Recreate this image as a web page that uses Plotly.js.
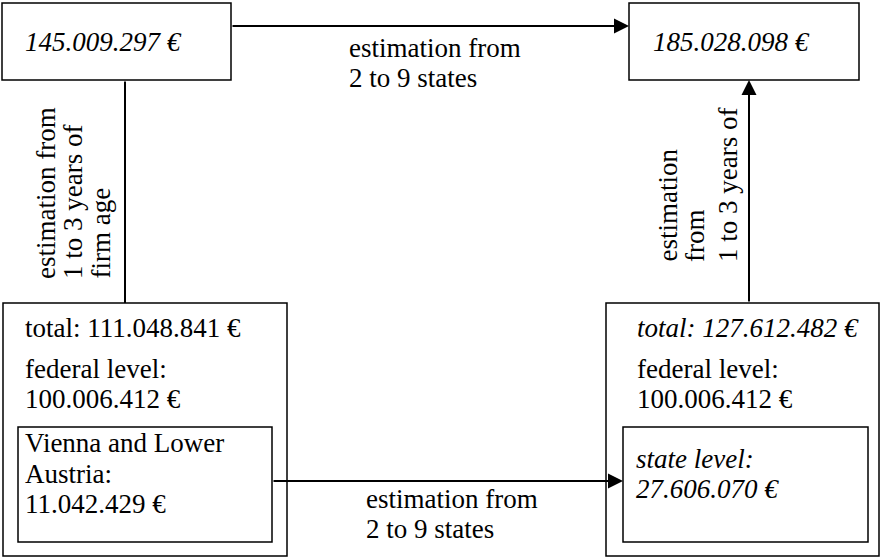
<!DOCTYPE html>
<html>
<head>
<meta charset="utf-8">
<script src="https://cdn.plot.ly/plotly-3.0.1.min.js"></script>
</head>
<body style="margin:0;padding:0;background:#fff;">
<div id="chart"></div>
<script>
// ---- Data (texts of the diagram) ----
const topLeftAmount = "145.009.297 €";
const topRightAmount = "185.028.098 €";
const leftTotal = "total: 111.048.841 €";
const rightTotal = "total: 127.612.482 €";
const federalLines = ["federal level:", "100.006.412 €"];
const leftStateLines = ["Vienna and Lower", "Austria:", "11.042.429 €"];
const rightStateLines = ["state level:", "27.606.070 €"];
const stateEstimationLines = ["estimation from", "2 to 9 states"];
const leftAgeLines = ["estimation from", "1 to 3 years of", "firm age"];
const rightAgeLines = ["estimation", "from", "1 to 3 years of"];

// ---- Layout helpers ----
const FAM = "Liberation Serif";
const FS = 27;
const boxLine = {color: "#000", width: 1.5};

function rect(x0, y0, x1, y1) {
  return {type: "rect", xref: "x", yref: "y", x0, y0, x1, y1, line: boxLine, fillcolor: "rgba(0,0,0,0)"};
}
function txt(t, x, y, italic, opts) {
  return Object.assign({
    text: italic ? "<i>" + t + "</i>" : t,
    x, y, xref: "x", yref: "y", showarrow: false,
    xanchor: "left", yanchor: "middle",
    font: {family: FAM, size: FS, color: "#000"}
  }, opts || {});
}
function vtxt(t, x, yBottom) {
  return txt(t, x, yBottom, false, {textangle: -90, xanchor: "center", yanchor: "bottom"});
}
function arrow(x0, y0, x1, y1, head) {
  return {
    text: "", x: x1, y: y1, ax: x0, ay: y0, xref: "x", yref: "y", axref: "x", ayref: "y",
    showarrow: true, arrowhead: head ? 2 : 0, arrowsize: 1.5, arrowwidth: 2,
    arrowcolor: "#000", standoff: 0, startstandoff: 0
  };
}

const shapes = [
  rect(2, 3, 231, 80),
  rect(629, 3, 859, 80),
  rect(3, 303, 287, 556),
  rect(18, 427, 272, 542),
  rect(606, 303, 879, 556),
  rect(623, 427, 868, 542)
];

const annotations = [
  txt(topLeftAmount, 23, 42, true),
  txt(topRightAmount, 651, 42, true),
  txt(stateEstimationLines[0], 347, 48, false),
  txt(stateEstimationLines[1], 347, 78, false),

  txt(leftTotal, 23, 328, false),
  txt(federalLines[0], 23, 369, false),
  txt(federalLines[1], 23, 399, false),
  txt(leftStateLines[0], 23, 443, false),
  txt(leftStateLines[1], 23, 474, false),
  txt(leftStateLines[2], 23, 504, false),

  txt(rightTotal, 635, 328, true),
  txt(federalLines[0], 635, 369, false),
  txt(federalLines[1], 635, 399, false),
  txt(rightStateLines[0], 634, 459, true),
  txt(rightStateLines[1], 634, 489, true),

  txt(stateEstimationLines[0], 364, 499, false),
  txt(stateEstimationLines[1], 364, 529, false),

  vtxt(leftAgeLines[0], 46, 281),
  vtxt(leftAgeLines[1], 73, 281),
  vtxt(leftAgeLines[2], 100, 281),
  vtxt(rightAgeLines[0], 667, 264),
  vtxt(rightAgeLines[1], 695, 264),
  vtxt(rightAgeLines[2], 728, 264),

  arrow(231, 26, 629, 26, true),
  arrow(125, 80, 125, 303, false),
  arrow(272, 481, 623, 481, true),
  arrow(749, 303, 749, 80, true)
];

const layout = {
  width: 881, height: 557,
  margin: {l: 0, r: 0, t: 0, b: 0, pad: 0},
  paper_bgcolor: "#fff", plot_bgcolor: "#fff",
  showlegend: false,
  xaxis: {range: [0, 881], visible: false},
  yaxis: {range: [557, 0], visible: false},
  shapes, annotations
};

Plotly.newPlot("chart", [{x: [], y: []}], layout, {displayModeBar: false});
</script>
</body>
</html>
